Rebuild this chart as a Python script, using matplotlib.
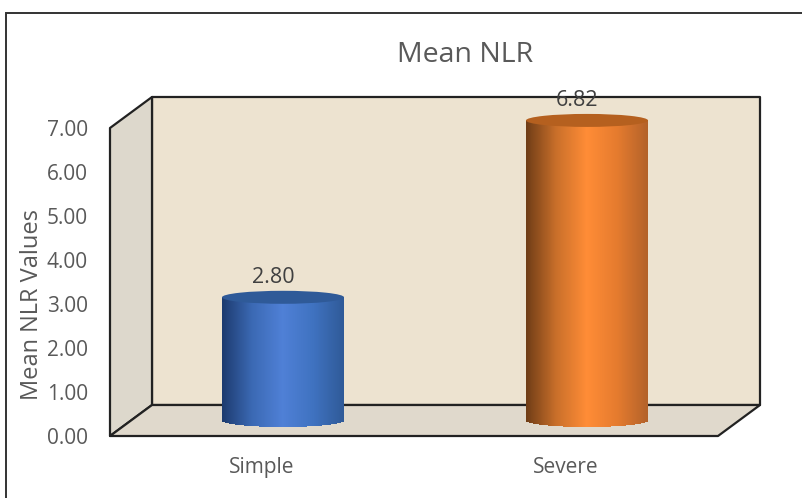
import numpy as np
import matplotlib
matplotlib.use('Agg')
import matplotlib.pyplot as plt
from matplotlib.colors import LinearSegmentedColormap
from matplotlib.patches import Polygon, Ellipse, Rectangle

categories = ['Simple', 'Severe']
values = [2.80, 6.82]
value_labels = ['2.80', '6.82']
y_ticks = [0, 1, 2, 3, 4, 5, 6, 7]
title = 'Mean NLR'
y_title = 'Mean NLR Values'

blues = ['#1c3a6e', '#3b69b4', '#4f80d6', '#3f72c0', '#2f5a98']
oranges = ['#6e3c16', '#c96f2a', '#ff8c36', '#e57b2e', '#b3622a']
top_colors = ['#2f5a98', '#b5601f']

plt.rcParams['font.family'] = ['Open Sans', 'DejaVu Sans']
W, H = 803, 498
fig = plt.figure(figsize=(W / 100, H / 100), dpi=100)

# white chart frame
fig.add_artist(Rectangle((6.5 / W, -0.02), 1, 1 - 13.5 / H + 0.02, transform=fig.transFigure,
                         fc='white', ec='#333333', lw=1.4, zorder=-1))

ax = fig.add_axes([110 / W, 1 - 436 / H, 608 / W, 308 / H])
ax.set_xlim(-0.5, 1.5)
ax.set_ylim(0, 7)
for s in ax.spines.values():
    s.set_visible(False)
ax.patch.set_visible(False)

# depth of the 3d box in data units
dx = 42 / 304
dy = 31 / 44
x0, x1 = -0.5, 1.5
y0, y1 = 0, 7
edge = dict(ec='#222222', lw=1.6, clip_on=False, joinstyle='round')
ax.add_patch(Polygon([(x0 + dx, y0 + dy), (x1 + dx, y0 + dy), (x1 + dx, y1 + dy), (x0 + dx, y1 + dy)],
                     fc='#ede3d0', zorder=1, **edge))
ax.add_patch(Polygon([(x0, y0), (x0 + dx, y0 + dy), (x0 + dx, y1 + dy), (x0, y1)],
                     fc='#ddd8cc', zorder=1, **edge))
ax.add_patch(Polygon([(x0, y0), (x1, y0), (x1 + dx, y0 + dy), (x0 + dx, y0 + dy)],
                     fc='#e0d9cc', zorder=1, **edge))

bar_w = 122 / 304
ell_h = 6.5 / 44
n_strips = 244
for i, v in enumerate(values):
    cx = i + dx / 2
    base = dy / 2
    cmap = LinearSegmentedColormap.from_list('c', blues if i == 0 else oranges)
    # cylinder side is built from thin bars so the shading runs across it
    u = (np.arange(n_strips) + 0.5) / n_strips
    xs = cx - bar_w / 2 + u * bar_w
    bottoms = base - ell_h * np.sqrt(1 - (2 * u - 1) ** 2)
    bars = ax.bar(xs, base + v - bottoms, width=bar_w / n_strips * 1.5, bottom=bottoms,
                  color=cmap(u), lw=0, zorder=3)
    for b in bars:
        b.set_clip_on(False)
    ax.add_patch(Ellipse((cx, base + v), bar_w, ell_h * 2, fc=top_colors[i], ec='none', zorder=4, clip_on=False))
    ax.text(cx - 10 / 304, base + v + 20 / 44, value_labels[i], ha='center', va='center',
            fontsize=15.5, color='#404040', zorder=5, clip_on=False)

ax.set_xlim(-0.5, 1.5)
ax.set_ylim(0, 7)
ax.set_xticks(range(len(categories)))
ax.set_xticklabels(categories)
ax.set_yticks(y_ticks)
ax.set_yticklabels(['%.2f' % y for y in y_ticks])
ax.tick_params(axis='x', length=0, pad=15, labelsize=15, labelcolor='#595959')
ax.tick_params(axis='y', length=0, pad=16, labelsize=15, labelcolor='#595959')

fig.text(465 / W, 1 - 55 / H, title, ha='center', va='center', fontsize=20.5, color='#595959')
fig.text(32 / W, 1 - 304 / H, y_title, ha='center', va='center', rotation=90, fontsize=17, color='#595959')

fig.savefig('out.png', dpi=100)
